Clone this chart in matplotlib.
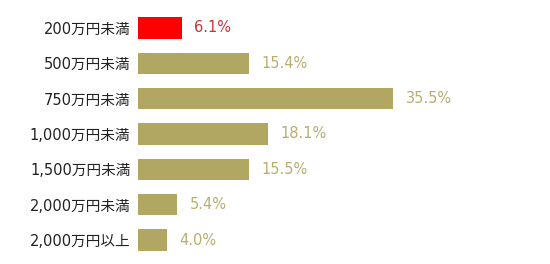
import matplotlib.pyplot as plt

# wide digits from DejaVu, CJK glyphs fall back to Noto
plt.rcParams['font.family'] = ['DejaVu Sans', 'Noto Sans CJK JP']

# data
categories = ['200万円未満', '500万円未満', '750万円未満', '1,000万円未満',
              '1,500万円未満', '2,000万円未満', '2,000万円以上']
values = [6.1, 15.4, 35.5, 18.1, 15.5, 5.4, 4.0]
highlight = [True, False, False, False, False, False, False]

GOLD = '#b1a762'
GOLD_TEXT = '#b8ae70'
RED = '#ff0000'
RED_TEXT = '#c9343a'

fig = plt.figure(figsize=(5.5, 2.64), dpi=100)
ax = fig.add_axes([138 / 550, (264 - 257.7) / 264, 412 / 550, 247.4 / 264])

y = list(range(len(categories)))
colors = [RED if h else GOLD for h in highlight]
ax.barh(y, values, height=0.6, color=colors)

for yi, v, h in zip(y, values, highlight):
    ax.text(v + 1.75, yi, f'{v:.1f}%', va='center', ha='left', fontsize=10.5,
            color=RED_TEXT if h else GOLD_TEXT)

ax.set_xlim(0, 412 / 7.18)
ax.set_ylim(len(categories) - 0.5, -0.5)
ax.set_yticks(y)
ax.set_yticklabels(categories, fontsize=10.5, color='#222222')
ax.tick_params(axis='y', length=0, pad=5.5)
ax.set_xticks([])
for s in ax.spines.values():
    s.set_visible(False)

fig.savefig('out.png', dpi=100)
